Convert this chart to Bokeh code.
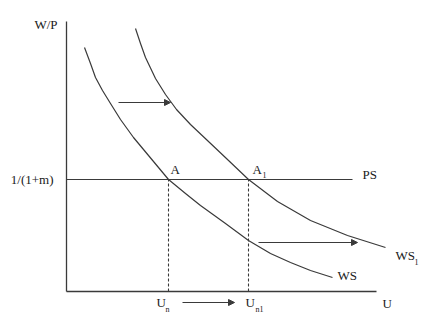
from bokeh.plotting import figure
from bokeh.models import Range1d, Arrow, NormalHead, ColumnDataSource
from bokeh.core.properties import value
from bokeh.embed import file_html
from bokeh.resources import INLINE

# ---- data (schematic units: U horizontal, W/P vertical) ----
ws_u = [18, 24, 29, 36, 44, 54, 67, 82, 102, 119, 134, 159, 182, 204, 224, 244, 266]
ws_w = [244, 228, 214, 201, 188, 172, 154, 136, 112, 98, 86, 68, 51, 38, 29, 21, 14]
ws1_u = [69, 74, 79, 89, 99, 110, 124, 142, 161, 182, 211, 244, 281, 319]
ws1_w = [263, 248, 234, 213, 197, 182, 167, 150, 132, 112, 90, 71, 56, 44]
ps_level = 112
ps_end = 286
u_n = 102
u_n1 = 182
u_axis_end = 310
w_axis_end = 270

# shift arrows: (start u, end u, level w)
arrow_u0 = [52, 192, 116]
arrow_u1 = [104, 291, 168]
arrow_w = [189, 49, -11]

FONT = value("Liberation Serif")
LINE = "#3a3a3a"
TXT = "#1a1a1a"

p = figure(width=430, height=333, output_backend="svg", toolbar_location=None,
           x_range=Range1d(-66, 364), y_range=Range1d(-42, 291), min_border=0)
p.axis.visible = False
p.grid.visible = False
p.outline_line_color = None

# axes
p.segment(x0=[0, 0], y0=[0, 0], x1=[u_axis_end, 0], y1=[0, w_axis_end],
          line_color=LINE, line_width=1.3)

# PS line
p.line(x=[0, ps_end], y=[ps_level, ps_level], line_color=LINE, line_width=1.2)

# WS curves
p.line(x=ws_u, y=ws_w, line_color=LINE, line_width=1.2, line_join="round")
p.line(x=ws1_u, y=ws1_w, line_color=LINE, line_width=1.2, line_join="round")

# dashed drop lines
p.segment(x0=[u_n, u_n1], y0=[0, 0], x1=[u_n, u_n1], y1=[ps_level, ps_level],
          line_color=LINE, line_width=1.1, line_dash="3 2")

# arrows
for a0, a1, w in zip(arrow_u0, arrow_u1, arrow_w):
    p.add_layout(Arrow(x_start=a0, y_start=w, x_end=a1, y_end=w,
                       line_color=LINE, line_width=1.1,
                       end=NormalHead(size=6, fill_color=LINE, line_color=LINE)))

# main labels
main = ColumnDataSource(dict(
    x=[-9, -13, 104, 186, 296, 329, 271, 316, 90, 179],
    y=[267, 112, 122, 122, 117, 36, 16, -12, -11, -11],
    t=["W/P", "1/(1+m)", "A", "A", "PS", "WS", "WS", "U", "U", "U"],
    a=["right", "right", "left", "left", "left", "left", "left", "left", "left", "left"],
))
p.text(x="x", y="y", text="t", text_align="a", source=main,
       text_baseline="middle", text_font=FONT, text_font_size="13px",
       text_color=TXT)

# subscripts
sub = ColumnDataSource(dict(
    x=[196, 348, 99, 189],
    y=[117, 30, -18, -18],
    t=["1", "1", "n", "n1"],
))
p.text(x="x", y="y", text="t", source=sub, text_align="left",
       text_baseline="middle", text_font=FONT, text_font_size="8px",
       text_color=TXT)

open("out.html", "w").write(file_html(p, INLINE))
